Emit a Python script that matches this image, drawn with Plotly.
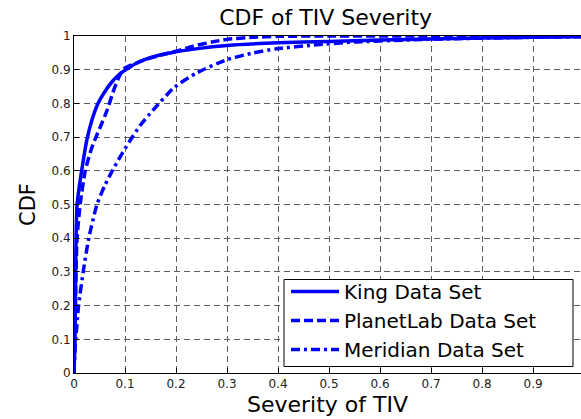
import plotly.graph_objects as go

# Empirical CDF curves of TIV severity for three latency data sets
king_x = [0, 0.002, 0.003, 0.004, 0.006, 0.010, 0.016, 0.025, 0.035, 0.047, 0.06, 0.075,
          0.09, 0.11, 0.13, 0.16, 0.2, 0.25, 0.3, 0.4, 0.5, 0.6, 0.7, 0.8, 0.9, 1.0]
king_y = [0, 0.1, 0.25, 0.4, 0.5, 0.55, 0.61, 0.69, 0.75, 0.8, 0.834, 0.865,
          0.888, 0.908, 0.925, 0.94, 0.953, 0.964, 0.972, 0.98, 0.984, 0.988, 0.991, 0.994, 0.996, 0.998]

planetlab_x = [0, 0.002, 0.004, 0.006, 0.012, 0.022, 0.033, 0.043, 0.053, 0.065, 0.078, 0.086,
               0.093, 0.1, 0.12, 0.15, 0.2, 0.234, 0.27, 0.3, 0.35, 0.4, 0.5, 0.7, 1.0]
planetlab_y = [0, 0.15, 0.3, 0.4, 0.5, 0.6, 0.66, 0.7, 0.735, 0.78, 0.84, 0.87,
               0.893, 0.905, 0.918, 0.935, 0.955, 0.97, 0.982, 0.99, 0.996, 0.999, 1.0, 1.0, 1.0]

meridian_x = [0, 0.002, 0.005, 0.009, 0.018, 0.029, 0.045, 0.06, 0.075, 0.09, 0.11, 0.13,
              0.155, 0.197, 0.24, 0.3, 0.352, 0.397, 0.47, 0.55, 0.65, 0.75, 0.85, 1.0]
meridian_y = [0, 0.07, 0.13, 0.2, 0.3, 0.4, 0.5, 0.555, 0.6, 0.64, 0.69, 0.735,
              0.78, 0.848, 0.89, 0.93, 0.95, 0.962, 0.973, 0.982, 0.988, 0.992, 0.995, 0.998]

series_names = ["King Data Set", "PlanetLab Data Set", "Meridian Data Set"]

x_ticks = [0, 0.1, 0.2, 0.3, 0.4, 0.5, 0.6, 0.7, 0.8, 0.9]
x_tick_text = ["0", "0.1", "0.2", "0.3", "0.4", "0.5", "0.6", "0.7", "0.8", "0.9"]
y_ticks = [0, 0.1, 0.2, 0.3, 0.4, 0.5, 0.6, 0.7, 0.8, 0.9, 1]
y_tick_text = ["0", "0.1", "0.2", "0.3", "0.4", "0.5", "0.6", "0.7", "0.8", "0.9", "1"]

FONT = "DejaVu Sans"
BLUE = "#0000ff"

fig = go.Figure()
fig.add_trace(go.Scatter(x=king_x, y=king_y, mode="lines", name=series_names[0],
                         line=dict(color=BLUE, width=3.5, shape="spline", smoothing=0.6)))
fig.add_trace(go.Scatter(x=planetlab_x, y=planetlab_y, mode="lines", name=series_names[1],
                         line=dict(color=BLUE, width=3.5, dash="9px,4px",
                                   shape="spline", smoothing=0.6)))
fig.add_trace(go.Scatter(x=meridian_x, y=meridian_y, mode="lines", name=series_names[2],
                         line=dict(color=BLUE, width=3.5, dash="9px,4px,3px,4px",
                                   shape="spline", smoothing=0.6)))

grid = dict(showgrid=True, gridcolor="#5e5e5e", gridwidth=1, griddash="6px,4px")

# plot-area geometry in pixels, used to place the legend frame
PLOT_L, PLOT_T, PLOT_W, PLOT_H = 74, 36, 507, 337


def px_x(p):
    return (p - PLOT_L) / PLOT_W


def px_y(p):
    return (PLOT_T + PLOT_H - p) / PLOT_H


fig.update_layout(
    width=581, height=419,
    margin=dict(l=PLOT_L, r=0, t=PLOT_T, b=419 - PLOT_T - PLOT_H),
    paper_bgcolor="white", plot_bgcolor="white",
    font=dict(family=FONT, color="#000"),
    title=dict(text="CDF of TIV Severity", x=0.5605, xanchor="center",
               y=0.958, yanchor="middle", yref="container",
               font=dict(family=FONT, size=22, color="#000")),
    xaxis=dict(range=[0, 0.994], tickvals=x_ticks, ticktext=x_tick_text,
               ticks="inside", ticklen=5, tickcolor="#000",
               showline=True, linecolor="#000", linewidth=1, mirror=True,
               zeroline=False, tickfont=dict(family=FONT, size=12, color="#222"),
               title=dict(text="Severity of TIV", standoff=6,
                          font=dict(family=FONT, size=22, color="#000")),
               **grid),
    yaxis=dict(range=[0, 1], tickvals=y_ticks, ticktext=y_tick_text,
               ticks="inside", ticklen=5, tickcolor="#000",
               showline=True, linecolor="#000", linewidth=1, mirror=False,
               zeroline=False, tickfont=dict(family=FONT, size=12, color="#222"),
               title=dict(text="CDF", standoff=10,
                          font=dict(family=FONT, size=21, color="#000")),
               **grid),
    legend=dict(x=px_x(286), y=px_y(369), xanchor="left", yanchor="bottom",
                bgcolor="rgba(0,0,0,0)", borderwidth=0,
                itemwidth=48, tracegroupgap=0,
                font=dict(family=FONT, size=20, color="#000")),
    shapes=[dict(type="rect", xref="paper", yref="paper", layer="above",
                 x0=px_x(284), x1=px_x(573), y0=px_y(366.5), y1=px_y(279.5),
                 fillcolor="white", line=dict(color="#000", width=1))],
)

fig.write_html("out.html")
